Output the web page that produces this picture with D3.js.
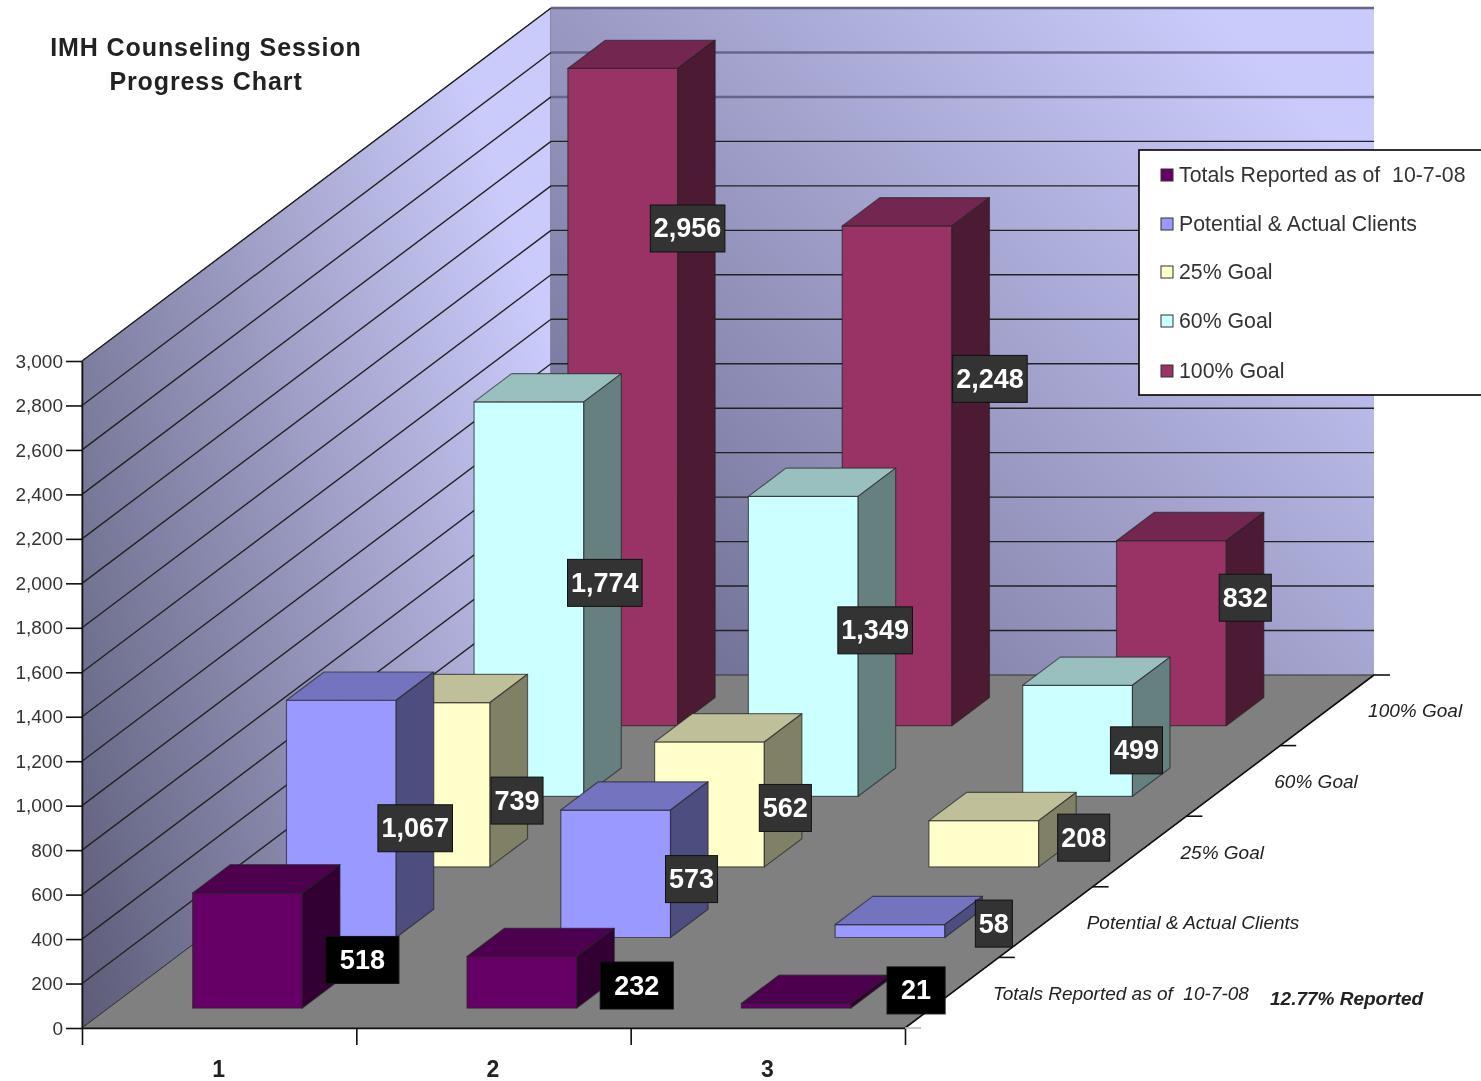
<!DOCTYPE html>
<meta charset="utf-8">
<head>
    <title>IMH Counseling Session Progress Chart</title>
    <script src="https://d3js.org/d3.v7.min.js"></script>
    <style>
        body { margin: 0; background: #fff; font-family: 'Liberation Sans', sans-serif; }
        svg { display: block; filter: blur(0.55px); }
        text { fill: #222; white-space: pre; }
        .axis path, .axis line { stroke: #111; stroke-width: 1.6; }
        .axis text { font-size: 19px; fill: #333; font-family: 'Liberation Sans', sans-serif; }
        .grid { stroke: #222; stroke-width: 1.4; }
        .grid.faint { stroke: #66668c; stroke-width: 2.4; }
        .bar path { stroke: #222; stroke-opacity: 0.65; stroke-width: 1.2; stroke-linejoin: round; }
        .title { font-size: 25px; font-weight: 700; text-anchor: middle; letter-spacing: 0.9px; }
        .cat { font-size: 23px; font-weight: 700; text-anchor: middle; }
        .depth { font-size: 19px; font-style: italic; }
        .legend { font-size: 21.3px; fill: #333; }
        .value { font-size: 27px; font-weight: 700; fill: #fff; text-anchor: middle; dominant-baseline: central; }
    </style>
</head>
<body>
<svg id="chart" width="1481" height="1081"></svg>
<script>
    const categories = ['1', '2', '3'];
    const seriesNames = ['Totals Reported as of  10-7-08', 'Potential & Actual Clients', '25% Goal', '60% Goal', '100% Goal'];
    const totalsReported = [518, 232, 21];
    const clients = [1067, 573, 58];
    const goal25 = [739, 562, 208];
    const goal60 = [1774, 1349, 499];
    const goal100 = [2956, 2248, 832];
    const seriesValues = [totalsReported, clients, goal25, goal60, goal100];
    const yTicks = d3.range(0, 3001, 200);
    const note = '12.77% Reported';

    // front, top, side colours per series
    const faces = [
        ['#660066', '#4d004d', '#330033'],
        ['#9999ff', '#7373bf', '#4d4d80'],
        ['#ffffcc', '#bfbf99', '#808066'],
        ['#ccffff', '#99bfbf', '#668080'],
        ['#993366', '#732650', '#4d1a33']
    ];

    // hand placed value labels, offset from the bar's top front right corner
    const labelNudge = [
        [[60, 67], [60, 29], [65, -13]],
        [[19, 128], [21, 69], [49, -1]],
        [[27, 98], [21, 66], [45, 17]],
        [[21, 181], [17, 134], [4, 65]],
        [[10, 160], [38, 153], [19, 57]]
    ];

    const svg = d3.select('#chart');

    const left = 82, right = 905, bottom = 1028, top3000 = 361;

    const xScale = d3.scaleBand().domain(categories).range([left, right]);
    const yScale = d3.scaleLinear().domain([0, 3000]).range([bottom, top3000]);
    const depthX = d3.scaleLinear().domain([0, seriesNames.length]).range([0, 469]);
    const depthY = d3.scaleLinear().domain([0, seriesNames.length]).range([0, -353]);

    // floor x across, depth d into the chart, height v
    const px = (x, d) => x + depthX(d);
    const py = (d, v) => yScale(v) + depthY(d);
    const poly = (pts) => 'M' + pts.map((p) => p.join(',')).join('L') + 'Z';

    const defs = svg.append('defs');
    const grad = (id, x1, y1, x2, y2, c1, c2) => {
        const g = defs.append('linearGradient').attr('id', id)
            .attr('gradientUnits', 'userSpaceOnUse')
            .attr('x1', x1).attr('y1', y1).attr('x2', x2).attr('y2', y2);
        g.append('stop').attr('offset', 0).attr('stop-color', c1);
        g.append('stop').attr('offset', 1).attr('stop-color', c2);
    };
    grad('leftWall', left, bottom, 700, 840, '#5c5c78', '#cbcbfb');
    grad('backWall', 551, 675, 1220, 20, '#66668a', '#cbcbfb');

    const nDepth = seriesNames.length;

    // walls and floor
    svg.append('path').attr('fill', 'url(#leftWall)').attr('stroke', '#444')
        .attr('d', poly([[left, bottom], [left, top3000], [px(left, nDepth), py(nDepth, 3000)], [px(left, nDepth), py(nDepth, 0)]]));
    svg.append('path').attr('fill', 'url(#backWall)')
        .attr('d', poly([[px(left, nDepth), py(nDepth, 0)], [px(left, nDepth), py(nDepth, 3000)], [px(right, nDepth), py(nDepth, 3000)], [px(right, nDepth), py(nDepth, 0)]]));
    svg.append('path').attr('fill', '#808080').attr('stroke', '#333')
        .attr('d', poly([[left, bottom], [px(left, nDepth), py(nDepth, 0)], [px(right, nDepth), py(nDepth, 0)], [right, bottom]]));

    // gridlines on both walls, the top ones on the back wall came out soft in the original
    const gridPts = yTicks.slice(1);
    svg.append('g').selectAll('line').data(gridPts).join('line').attr('class', 'grid')
        .attr('x1', left).attr('y1', (v) => yScale(v))
        .attr('x2', px(left, nDepth)).attr('y2', (v) => py(nDepth, v));
    svg.append('g').selectAll('line').data(gridPts).join('line')
        .attr('class', (v) => v >= 2600 ? 'grid faint' : 'grid')
        .attr('x1', px(left, nDepth)).attr('y1', (v) => py(nDepth, v))
        .attr('x2', px(right, nDepth)).attr('y2', (v) => py(nDepth, v));

    // axes
    svg.append('g').attr('class', 'axis')
        .attr('transform', `translate(${left},0)`)
        .call(d3.axisLeft(yScale).tickValues(yTicks).tickSize(16).tickSizeOuter(0).tickFormat(d3.format(',')).tickPadding(3));

    const edgeScale = d3.scaleLinear().domain([0, categories.length]).range([left, right]);
    svg.append('g').attr('class', 'axis')
        .attr('transform', `translate(0,${bottom})`)
        .call(d3.axisBottom(edgeScale).ticks(categories.length).tickSize(17).tickSizeOuter(0).tickFormat(''));

    svg.selectAll('.cat').data(categories).join('text').attr('class', 'cat')
        .attr('x', (c) => xScale(c) + xScale.bandwidth() / 2 - 0.5)
        .attr('y', 1077)
        .text((c) => c);

    // depth axis on the right edge of the floor
    svg.append('line').attr('x1', right).attr('y1', bottom)
        .attr('x2', px(right, nDepth)).attr('y2', py(nDepth, 0))
        .attr('stroke', '#111').attr('stroke-width', 1.6);
    svg.selectAll('.dtick').data(d3.range(nDepth + 1)).join('line').attr('class', 'dtick')
        .attr('x1', (d) => px(right, d)).attr('y1', (d) => py(d, 0))
        .attr('x2', (d) => px(right, d) + 16).attr('y2', (d) => py(d, 0))
        .attr('stroke', (d) => d === 0 ? '#bbb' : '#111').attr('stroke-width', 1.6);
    svg.selectAll('.depth').data(seriesNames).join('text').attr('class', 'depth')
        .attr('x', (s, i) => px(right, i + 0.5) + 41)
        .attr('y', (s, i) => py(i + 0.5, 0) + 7)
        .text((s) => s);
    svg.append('text').attr('class', 'depth').style('font-weight', 700)
        .attr('x', 1270).attr('y', 1005).text(note);

    // bars, drawn back to front
    const barInset = 0.307, barSpan = 0.40, depthStart = 0.282, depthSpan = 0.40;
    const step = xScale.step();
    const barsLayer = svg.append('g');

    d3.range(nDepth - 1, -1, -1).forEach((s) => {
        categories.forEach((c, i) => {
            const v = seriesValues[s][i];
            const x0 = xScale(c) + step * barInset, x1 = x0 + step * barSpan;
            const d0 = s + depthStart, d1 = d0 + depthSpan;
            const g = barsLayer.append('g').attr('class', 'bar');
            // front
            g.append('path').attr('fill', faces[s][0])
                .attr('d', poly([[px(x0, d0), py(d0, 0)], [px(x0, d0), py(d0, v)], [px(x1, d0), py(d0, v)], [px(x1, d0), py(d0, 0)]]));
            // top
            g.append('path').attr('fill', faces[s][1])
                .attr('d', poly([[px(x0, d0), py(d0, v)], [px(x0, d1), py(d1, v)], [px(x1, d1), py(d1, v)], [px(x1, d0), py(d0, v)]]));
            // side
            g.append('path').attr('fill', faces[s][2])
                .attr('d', poly([[px(x1, d0), py(d0, 0)], [px(x1, d0), py(d0, v)], [px(x1, d1), py(d1, v)], [px(x1, d1), py(d1, 0)]]));
        });
    });

    // value labels on top of all bars
    const labelsLayer = svg.append('g');
    const fmt = d3.format(',');
    d3.range(nDepth - 1, -1, -1).forEach((s) => {
        categories.forEach((c, i) => {
            const v = seriesValues[s][i];
            const x1 = xScale(c) + step * (barInset + barSpan);
            const d0 = s + depthStart;
            const cx = px(x1, d0) + labelNudge[s][i][0];
            const cy = py(d0, v) + labelNudge[s][i][1];
            const g = labelsLayer.append('g');
            const box = g.append('rect');
            const t = g.append('text').attr('class', 'value').attr('x', cx).attr('y', cy).text(fmt(v));
            const w = t.node().getComputedTextLength() + (s === 0 ? 28 : 7);
            box.attr('x', cx - w / 2).attr('y', cy - 23.5).attr('width', w).attr('height', 47)
                .attr('fill', s === 0 ? '#000' : '#333').attr('stroke', '#111');
        });
    });

    // title
    svg.append('text').attr('class', 'title').attr('x', 206).attr('y', 56).text('IMH Counseling Session');
    svg.append('text').attr('class', 'title').attr('x', 206).attr('y', 90).text('Progress Chart');

    // legend
    const legendRows = [175, 224, 272, 321, 371];
    svg.append('rect').attr('x', 1139).attr('y', 150).attr('width', 360).attr('height', 245)
        .attr('fill', '#fff').attr('stroke', '#000').attr('stroke-width', 1.6);
    const legend = svg.selectAll('.lg').data(seriesNames).join('g').attr('class', 'lg')
        .attr('transform', (s, i) => `translate(0,${legendRows[i]})`);
    legend.append('rect').attr('x', 1161).attr('y', -6).attr('width', 12).attr('height', 12)
        .attr('fill', (s, i) => faces[i][0]).attr('stroke', '#333');
    legend.append('text').attr('class', 'legend').attr('x', 1179).attr('y', 7).text((s) => s);
</script>
</body>
